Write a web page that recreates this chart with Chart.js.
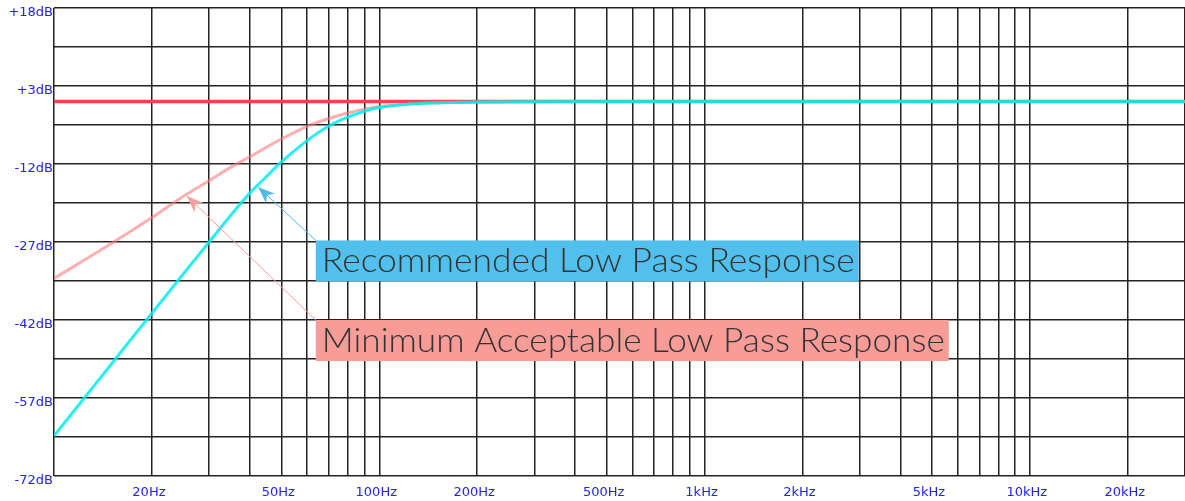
<!DOCTYPE html>
<html>
<head>
<meta charset="utf-8">
<script src="https://cdn.jsdelivr.net/npm/chart.js@4.4.0/dist/chart.umd.min.js"></script>
<style>
  html, body { margin: 0; padding: 0; background: #fff; }
  #wrap { width: 1185px; height: 501px; position: relative; }
</style>
</head>
<body>
<div id="wrap"><canvas id="resp"></canvas></div>
<script>
// response curves (Hz / dB)
const recFreq = [10, 12.5, 15, 17.5, 20, 25, 30, 35, 40, 45, 50, 60, 70, 80, 90, 100, 120, 150, 200, 300, 500, 30000];
const recDb   = [-64.3, -56.7, -50.5, -45.2, -40.7, -33.1, -27.0, -21.8, -17.6, -14.4, -11.6, -7.5, -4.7, -3.0, -1.85, -1.15, -0.55, -0.25, -0.08, -0.02, 0, 0];

const minFreq = [10, 15, 20, 25, 30, 35, 40, 50, 60, 70, 80, 90, 100, 120, 150, 200, 300, 30000];
const minDb   = [-34.0, -27.3, -22.3, -18.2, -15.2, -12.6, -10.6, -7.2, -4.75, -3.25, -2.2, -1.45, -0.95, -0.5, -0.22, -0.06, 0, 0];

const flatFreq = [10, 30000];
const flatDb   = [0, 0];

// axis ticks
const xTickValues = [20, 50, 100, 200, 500, 1000, 2000, 5000, 10000, 20000];
const xTickLabels = ['20Hz', '50Hz', '100Hz', '200Hz', '500Hz', '1kHz', '2kHz', '5kHz', '10kHz', '20kHz'];
const yTickValues = [-72, -57, -42, -27, -12, 3, 18];
const yTickLabels = ['-72dB', '-57dB', '-42dB', '-27dB', '-12dB', '+3dB', '+18dB'];

// grid: 1..9 per decade, and every 7.5 dB
const xGrid = [];
[10, 100, 1000, 10000].forEach(d => {
  for (let m = 1; m <= 9; m++) if (m * d <= 30000) xGrid.push(m * d);
});
const yGrid = [];
for (let i = 0; i <= 12; i++) yGrid.push(-72 + 7.5 * i);

// callouts, anchored in data space
const notes = [
  { text: 'Recommended Low Pass Response', fill: '#52c0ec', line: '#4fb9e8',
    tipF: 42.4, tipDb: -16.4, boxF: 63.8, boxDb: -26.7, textW: 533 },
  { text: 'Minimum Acceptable Low Pass Response', fill: '#f99c97', line: '#f5a09b',
    tipF: 25.6, tipDb: -18.15, boxF: 63.8, boxDb: -42.0, textW: 623 }
];

const toPts = (f, v) => f.map((x, i) => ({ x, y: v[i] }));

const calloutPlugin = {
  id: 'callouts',
  afterDraw(chart) {
    const { ctx, scales: { x, y } } = chart;
    notes.forEach(n => {
      const tx = x.getPixelForValue(n.tipF), ty = y.getPixelForValue(n.tipDb);
      const bx = x.getPixelForValue(n.boxF), by = y.getPixelForValue(n.boxDb);
      ctx.save();
      // arrow
      ctx.strokeStyle = n.line;
      ctx.lineWidth = 1;
      ctx.beginPath();
      ctx.moveTo(bx, by);
      ctx.lineTo(tx, ty);
      ctx.stroke();
      const a = Math.atan2(ty - by, tx - bx);
      const c = Math.cos(a), s = Math.sin(a);
      ctx.fillStyle = n.line;
      ctx.beginPath();
      ctx.moveTo(tx, ty);
      ctx.lineTo(tx - 17 * c + 6.5 * s, ty - 17 * s - 6.5 * c);
      ctx.lineTo(tx - 12 * c, ty - 12 * s);
      ctx.lineTo(tx - 17 * c - 6.5 * s, ty - 17 * s + 6.5 * c);
      ctx.closePath();
      ctx.fill();
      // box + text
      ctx.fillStyle = n.fill;
      ctx.fillRect(bx, by, n.textW + 10, 41);
      ctx.font = '300 33px Lato, "Open Sans", sans-serif';
      ctx.textBaseline = 'alphabetic';
      ctx.textAlign = 'left';
      const w = ctx.measureText(n.text).width;
      ctx.translate(bx + 6, by + 32);
      ctx.scale(n.textW / w, 1);
      ctx.fillStyle = '#333';
      ctx.fillText(n.text, 0, 0);
      ctx.restore();
    });
  }
};

const gridOpts = { color: '#222', lineWidth: 1.5, drawTicks: false };
const tickFont = { family: '"DejaVu Sans", sans-serif', size: 13 };

new Chart(document.getElementById('resp'), {
  type: 'line',
  data: {
    datasets: [
      { data: toPts(recFreq, recDb), borderColor: 'rgba(0,238,238,0.85)', borderWidth: 3, order: 0 },
      { data: toPts(minFreq, minDb), borderColor: 'rgba(255,120,125,0.6)', borderWidth: 3, order: 1 },
      { data: toPts(flatFreq, flatDb), borderColor: '#f4434f', borderWidth: 3.5, order: 2 }
    ]
  },
  options: {
    responsive: true,
    maintainAspectRatio: false,
    animation: false,
    elements: {
      point: { radius: 0 },
      line: { cubicInterpolationMode: 'monotone', fill: false }
    },
    layout: { padding: { top: 8, left: 0, right: 0, bottom: 0 } },
    plugins: { legend: { display: false }, tooltip: { enabled: false } },
    scales: {
      x: {
        type: 'logarithmic', min: 10, max: 30000,
        afterBuildTicks: ax => { ax.ticks = xGrid.map(v => ({ value: v })); },
        afterFit: ax => { ax.height = 25; ax.paddingLeft = 0; ax.paddingRight = 0; },
        grid: gridOpts,
        border: { display: false },
        ticks: {
          autoSkip: false, maxRotation: 0, minRotation: 0, padding: 9, labelOffset: -3,
          color: '#2222ff', font: tickFont,
          callback: v => { const i = xTickValues.indexOf(v); return i < 0 ? '' : xTickLabels[i]; }
        }
      },
      y: {
        min: -72, max: 18,
        afterBuildTicks: ax => { ax.ticks = yGrid.map(v => ({ value: v })); },
        afterFit: ax => { ax.width = 54; ax.paddingTop = 0; ax.paddingBottom = 0; },
        grid: gridOpts,
        border: { display: false },
        ticks: {
          autoSkip: false, padding: 1, labelOffset: 5,
          color: '#2222ff', font: tickFont,
          callback: v => { const i = yTickValues.indexOf(v); return i < 0 ? '' : yTickLabels[i]; }
        }
      }
    }
  },
  plugins: [calloutPlugin]
});
</script>
</body>
</html>
